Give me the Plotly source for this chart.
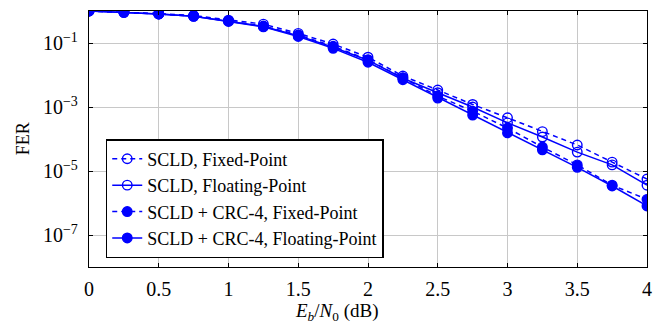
import plotly.graph_objects as go

snr = [0, 0.25, 0.5, 0.75, 1.0, 1.25, 1.5, 1.75, 2.0, 2.25, 2.5, 2.75, 3.0, 3.25, 3.5, 3.75, 4.0]

scld_fixed = [1.0, 0.93, 0.83, 0.72, 0.52, 0.39, 0.2, 0.093, 0.036, 9.3e-3, 3.4e-3, 1.2e-3,
              4.6e-4, 1.7e-4, 6.5e-5, 1.9e-5, 5.6e-6]
scld_float = [1.0, 0.91, 0.81, 0.69, 0.49, 0.33, 0.17, 0.074, 0.029, 7.9e-3, 2.8e-3, 1.0e-3,
              3.2e-4, 1.15e-4, 3.9e-5, 1.55e-5, 3.6e-6]
crc_fixed = [1.0, 0.91, 0.81, 0.69, 0.49, 0.34, 0.18, 0.079, 0.030, 8.3e-3, 2.2e-3, 7.4e-4,
             2.2e-4, 5.6e-5, 1.55e-5, 3.6e-6, 1.3e-6]
crc_float = [1.0, 0.91, 0.81, 0.68, 0.47, 0.32, 0.16, 0.068, 0.025, 7.1e-3, 1.9e-3, 5.6e-4,
             1.55e-4, 4.6e-5, 1.3e-5, 3.4e-6, 8.1e-7]

names = ["SCLD, Fixed-Point", "SCLD, Floating-Point",
         "SCLD + CRC-4, Fixed-Point", "SCLD + CRC-4, Floating-Point"]

x_ticks = [0, 0.5, 1, 1.5, 2, 2.5, 3, 3.5, 4]
x_ticktext = ["0", "0.5", "1", "1.5", "2", "2.5", "3", "3.5", "4"]
y_ticks = [1e-1, 1e-3, 1e-5, 1e-7]
y_ticktext = ["10<sup>\u22121</sup>", "10<sup>\u22123</sup>", "10<sup>\u22125</sup>", "10<sup>\u22127</sup>"]

x_title = "<i>E</i><sub><i>b</i></sub>/<i>N</i><sub>0</sub> (dB)"
y_title = "FER"

BLUE = "#0000ff"
FONT = "Liberation Serif"

fig = go.Figure()
specs = [
    (scld_fixed, "dash", "circle-open"),
    (scld_float, "solid", "circle-open"),
    (crc_fixed, "dash", "circle"),
    (crc_float, "solid", "circle"),
]
for (vals, dash, sym), name in zip(specs, names):
    fig.add_trace(go.Scatter(
        x=snr, y=vals, name=name, mode="lines+markers",
        line=dict(color=BLUE, width=1.5, dash="5px,4px" if dash == "dash" else "solid"),
        marker=dict(symbol=sym, size=9.5, color=BLUE, line=dict(color=BLUE, width=1.4)),
    ))

# page body has an 8px default margin; figure is sized so the plot area lands at
# x 89..647, y 11..267 in the 662x326 window
fig.update_layout(
    width=654, height=318,
    margin=dict(l=81, r=15, t=3, b=59, autoexpand=False),
    paper_bgcolor="white", plot_bgcolor="white",
    font=dict(family=FONT, size=18, color="black"),
    showlegend=True,
    legend=dict(
        x=0.03, y=0.035, xanchor="left", yanchor="bottom",
        bgcolor="white", bordercolor="black", borderwidth=1.5,
        font=dict(family=FONT, size=18, color="black"),
        tracegroupgap=0, itemwidth=30,
    ),
    annotations=[
        dict(text=x_title, xref="paper", yref="paper", x=0.444, y=-0.176,
             xanchor="center", yanchor="middle", showarrow=False,
             font=dict(family=FONT, size=19)),
        dict(text=y_title, xref="paper", yref="paper", x=-0.118, y=0.5,
             xanchor="center", yanchor="middle", showarrow=False, textangle=-90,
             font=dict(family=FONT, size=18)),
    ],
)
fig.update_xaxes(
    range=[0, 4], tickvals=x_ticks, ticktext=x_ticktext, automargin=False,
    showgrid=True, gridcolor="#c8c8c8", gridwidth=1,
    showline=True, linecolor="black", linewidth=1.3, mirror="allticks",
    ticks="inside", ticklen=4, tickcolor="black",
    zeroline=False, ticklabelstandoff=4,
    tickfont=dict(family=FONT, size=20),
)
fig.update_yaxes(
    type="log", range=[-8, 0], tickvals=y_ticks, ticktext=y_ticktext, automargin=False,
    showgrid=True, gridcolor="#c8c8c8", gridwidth=1,
    showline=True, linecolor="black", linewidth=1.3, mirror="allticks",
    ticks="inside", ticklen=4, tickcolor="black",
    zeroline=False, ticklabelstandoff=6,
    tickfont=dict(family=FONT, size=20),
)

fig.write_html("out.html")
